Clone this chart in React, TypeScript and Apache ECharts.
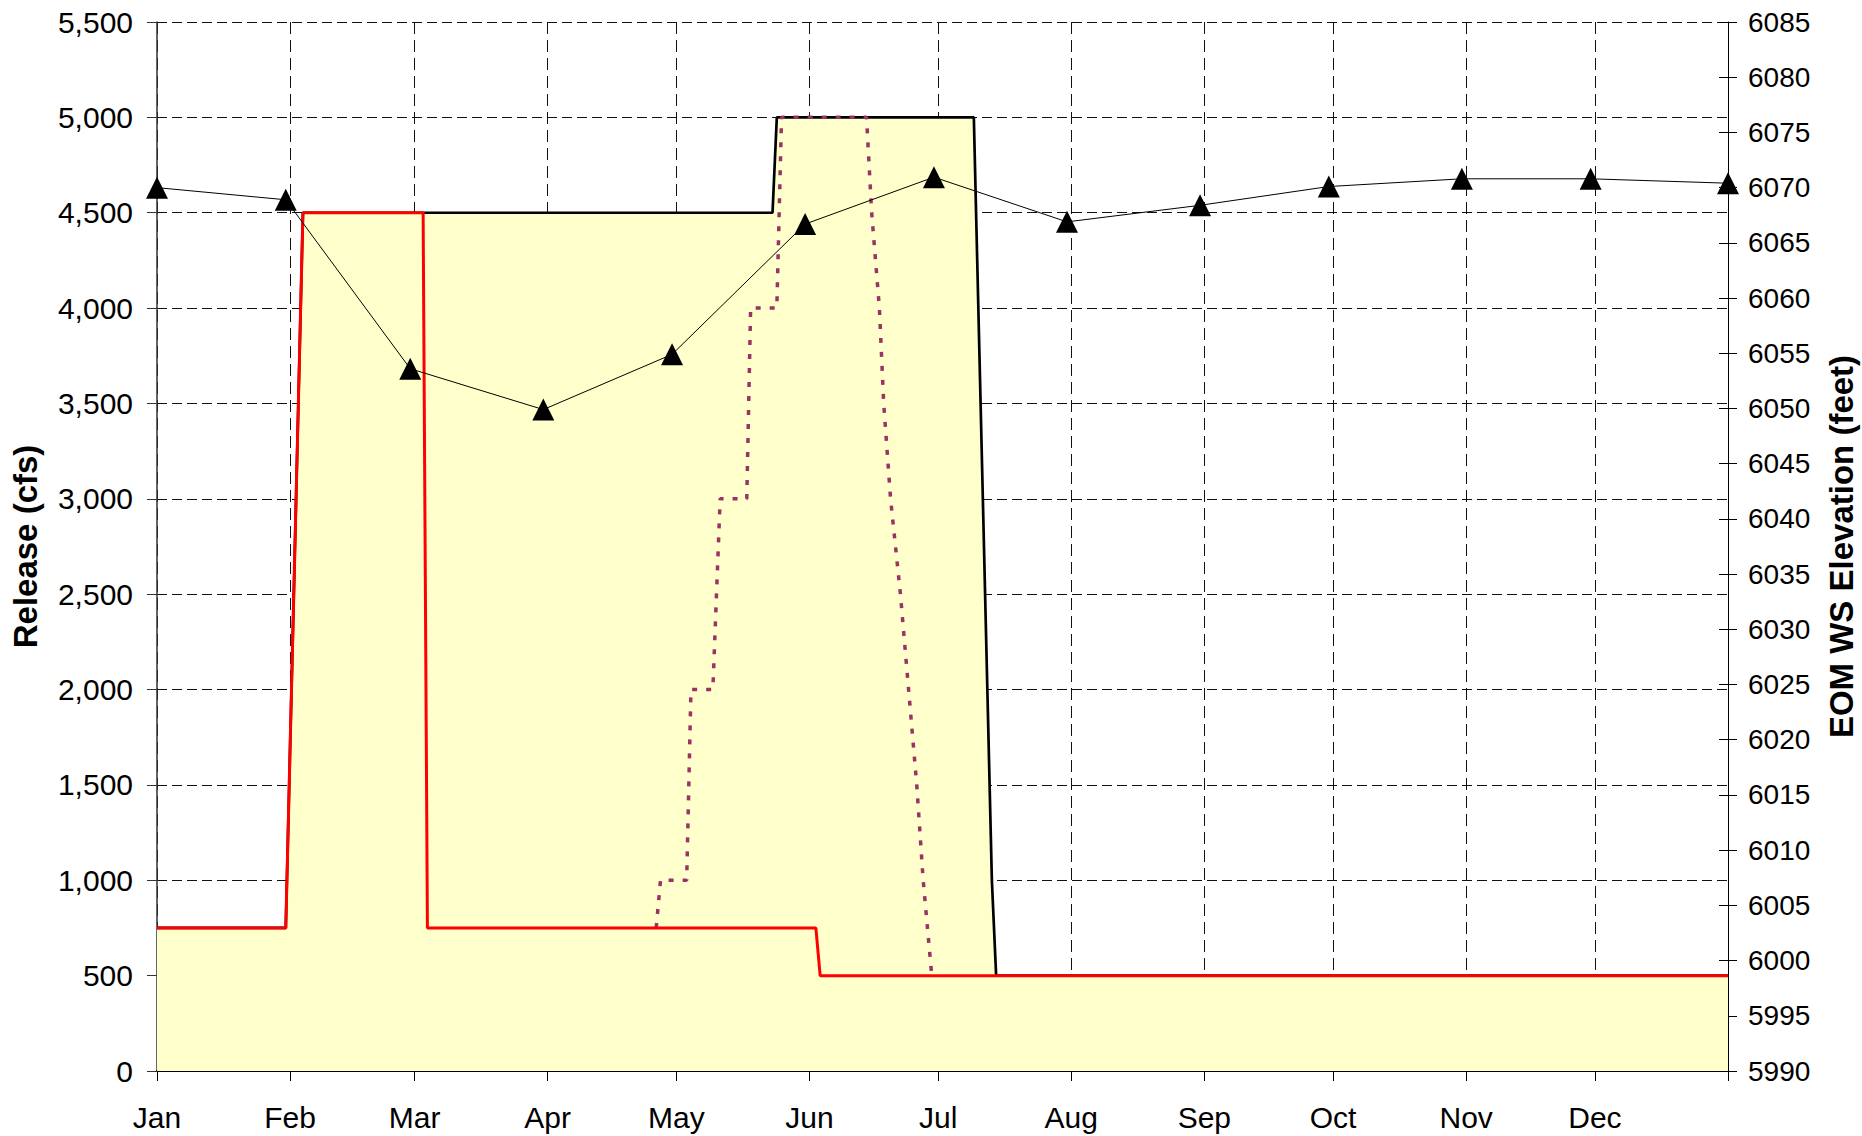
import React, { useEffect, useRef } from "react";
import * as echarts from "echarts";

const monthStarts = [0, 31, 60, 91, 121, 152, 182, 213, 244, 274, 305, 335, 366];
const monthNames = ["Jan", "Feb", "Mar", "Apr", "May", "Jun", "Jul", "Aug", "Sep", "Oct", "Nov", "Dec"];

// Maximum release envelope (black line, yellow fill) [day, cfs]
const maxRelease: [number, number][] = [
  [0, 750], [30, 750], [34, 4500], [143.4, 4500], [144.4, 5000],
  [190.3, 5000], [194.5, 1000], [195.5, 500], [366, 500],
];

// Minimum release (red line) [day, cfs]
const minRelease: [number, number][] = [
  [0, 750], [30, 750], [34, 4500], [62, 4500], [63, 750],
  [153.5, 750], [154.5, 500], [366, 500],
];

// Spring peak release (purple dotted) [day, cfs]
const peakRelease: [number, number][] = [
  [116.3, 750], [117.3, 1000], [123.4, 1000], [124.4, 2000], [129.5, 2000],
  [131.2, 3000], [137.4, 3000], [138.3, 4000], [144.4, 4000], [145.5, 5000],
  [165.3, 5000], [166.5, 4500], [168.3, 4000], [169.3, 3500], [170.9, 3000],
  [173.2, 2500], [175.1, 2000], [177.0, 1500], [178.5, 1000], [180.5, 500],
];

// End-of-month water surface elevation (feet) [day, ft]
const eomDays = [0, 30, 59, 90, 120, 151, 181, 212, 243, 273, 304, 334, 366];
const eomElev = [6070.0, 6068.9, 6053.6, 6049.9, 6054.9, 6066.7, 6070.95, 6066.9, 6068.4, 6070.1, 6070.8, 6070.8, 6070.4];

const FONT = "'Liberation Sans', Arial, sans-serif";

export default function App() {
  const ref = useRef<HTMLDivElement>(null);

  useEffect(() => {
    if (!ref.current) return;
    document.body.style.margin = "0";
    document.body.style.overflow = "hidden";
    const chart = echarts.init(ref.current, null, { renderer: "svg" });
    const gridLine = { show: true, lineStyle: { color: "#111", width: 1, type: [10, 5] as any } };
    chart.setOption({
      animation: false,
      backgroundColor: "#fff",
      textStyle: { fontFamily: FONT },
      grid: { left: 157, right: 134, top: 22, bottom: 65, containLabel: false, outerBoundsMode: "none" },
      xAxis: {
        type: "value",
        min: 0,
        max: 366,
        axisLine: { show: true, lineStyle: { color: "#000", width: 2 } },
        axisTick: { show: true, customValues: monthStarts, length: 10, lineStyle: { color: "#000", width: 1 } },
        axisLabel: {
          customValues: monthStarts.slice(0, 12),
          formatter: (v: number) => monthNames[monthStarts.indexOf(v)] ?? "",
          fontSize: 30,
          color: "#000",
          margin: 31,
          fontFamily: FONT,
        },
        splitLine: { show: true, lineStyle: { color: "#111", width: 1, type: [12, 6] as any } },
      },
      yAxis: [
        {
          type: "value",
          position: "left",
          min: 0,
          max: 5500,
          interval: 500,
          name: "Release (cfs)",
          nameLocation: "middle",
          nameRotate: 90,
          nameGap: 115,
          nameTextStyle: { fontSize: 33, fontWeight: "bold", color: "#000", fontFamily: FONT },
          axisLine: { show: true, lineStyle: { color: "#333", width: 1.5 } },
          axisTick: { show: true, length: 10, lineStyle: { color: "#333" } },
          axisLabel: {
            fontSize: 30,
            color: "#000",
            margin: 24,
            fontFamily: FONT,
            formatter: (v: number) => v.toLocaleString("en-US"),
          },
          splitLine: gridLine,
        },
        {
          type: "value",
          position: "right",
          min: 5990,
          max: 6085,
          interval: 5,
          name: "EOM WS Elevation (feet)",
          nameLocation: "middle",
          nameRotate: 90,
          nameGap: 97,
          nameTextStyle: { fontSize: 33, fontWeight: "bold", color: "#000", fontFamily: FONT },
          axisLine: { show: true, lineStyle: { color: "#000", width: 1 } },
          axisTick: { show: true, length: 9, lineStyle: { color: "#000" } },
          axisLabel: {
            fontSize: 28,
            color: "#000",
            margin: 20,
            fontFamily: FONT,
            formatter: (v: number) => String(v),
          },
          splitLine: { show: false },
        },
        {
          type: "value",
          position: "right",
          min: 5990,
          max: 6085,
          interval: 5,
          axisLine: { show: false },
          axisTick: { show: true, inside: true, length: 9, lineStyle: { color: "#000" } },
          axisLabel: { show: false },
          splitLine: { show: false },
        },
      ],
      series: [
        {
          type: "line",
          name: "Max",
          data: maxRelease,
          yAxisIndex: 0,
          symbol: "none",
          lineStyle: { color: "#000", width: 2.7 },
          areaStyle: { color: "#FFFFCC", opacity: 1 },
          z: 2,
        },
        {
          type: "line",
          name: "Peak",
          data: peakRelease,
          yAxisIndex: 0,
          symbol: "none",
          lineStyle: { color: "#993366", width: 3.5, type: [5, 9] as any },
          z: 3,
        },
        {
          type: "line",
          name: "Min",
          data: minRelease,
          yAxisIndex: 0,
          symbol: "none",
          lineStyle: { color: "#FF0000", width: 3 },
          z: 4,
        },
        {
          type: "line",
          name: "EOM",
          data: eomDays.map((d, i) => [d, eomElev[i]]),
          yAxisIndex: 1,
          symbol: "triangle",
          symbolSize: 22,
          itemStyle: { color: "#000" },
          lineStyle: { color: "#000", width: 1 },
          z: 5,
        },
      ],
    });
    return () => chart.dispose();
  }, []);

  return (
    <div
      ref={ref}
      style={{ position: "absolute", left: 0, top: 0, width: 1862, height: 1136, background: "#fff" }}
    />
  );
}
